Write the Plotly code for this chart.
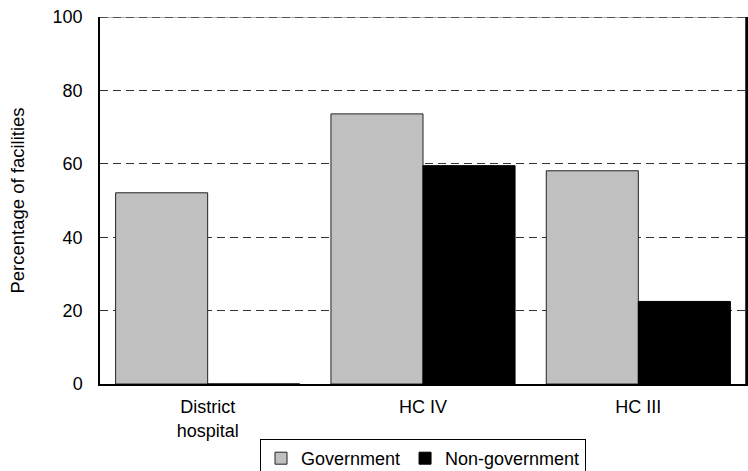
import plotly.graph_objects as go

categories = ["District<br>hospital", "HC IV", "HC III"]
government = [52.1, 73.6, 58.1]
non_government = [0, 59.5, 22.5]
y_ticks = [0, 20, 40, 60, 80, 100]

FONT = "Arial, Liberation Sans, sans-serif"

fig = go.Figure()
fig.add_trace(go.Bar(
    name="Government", x=categories, y=government,
    marker=dict(color="#C0C0C0", line=dict(color="#222222", width=1)),
))
fig.add_trace(go.Bar(
    name="Non-government", x=categories, y=non_government,
    marker=dict(color="#000000", line=dict(color="#000000", width=1)),
))

fig.update_layout(
    width=748, height=471,
    margin=dict(l=100, r=2, t=17, b=87, autoexpand=False),
    paper_bgcolor="white", plot_bgcolor="white",
    font=dict(family=FONT, size=18, color="black"),
    barmode="group", bargap=0.145, bargroupgap=0,
    showlegend=True,
    legend=dict(
        orientation="h", x=0.5, xanchor="center", xref="paper",
        y=32 / 471, yanchor="top", yref="container",
        bordercolor="black", borderwidth=1,
        font=dict(family=FONT, size=18, color="black"),
        itemwidth=30, tracegroupgap=0,
    ),
    shapes=[
        dict(type="line", xref="paper", x0=0, x1=1, yref="y", y0=100, y1=100,
             line=dict(color="#9a9a9a", width=1.5), layer="below"),
        dict(type="line", xref="paper", x0=0, x1=1, yref="y", y0=100, y1=100,
             line=dict(color="#333333", width=1.5, dash="8px,5px"), layer="above"),
        dict(type="line", xref="paper", x0=1, x1=1, yref="y", y0=0, y1=100,
             line=dict(color="black", width=1.5), layer="above"),
    ],
)
fig.update_xaxes(
    showline=True, linecolor="black", linewidth=1.5,
    showgrid=False, ticks="", ticklabelstandoff=6, automargin=False,
    tickfont=dict(family=FONT, size=18),
)
fig.update_yaxes(
    range=[0, 100], tickvals=y_ticks,
    showline=True, linecolor="black", linewidth=1.5, mirror=True,
    showgrid=True, gridcolor="#333333", gridwidth=1, griddash="8px,5px",
    zeroline=False, ticks="", ticklabelstandoff=12, automargin=False,
    tickfont=dict(family=FONT, size=18),
    title=dict(text="Percentage of facilities", standoff=23,
               font=dict(family=FONT, size=18.5)),
)

fig.write_html(
    "out.html",
    config={"displayModeBar": False},
    post_script="document.body.style.margin='0';document.body.style.padding='0';",
)
